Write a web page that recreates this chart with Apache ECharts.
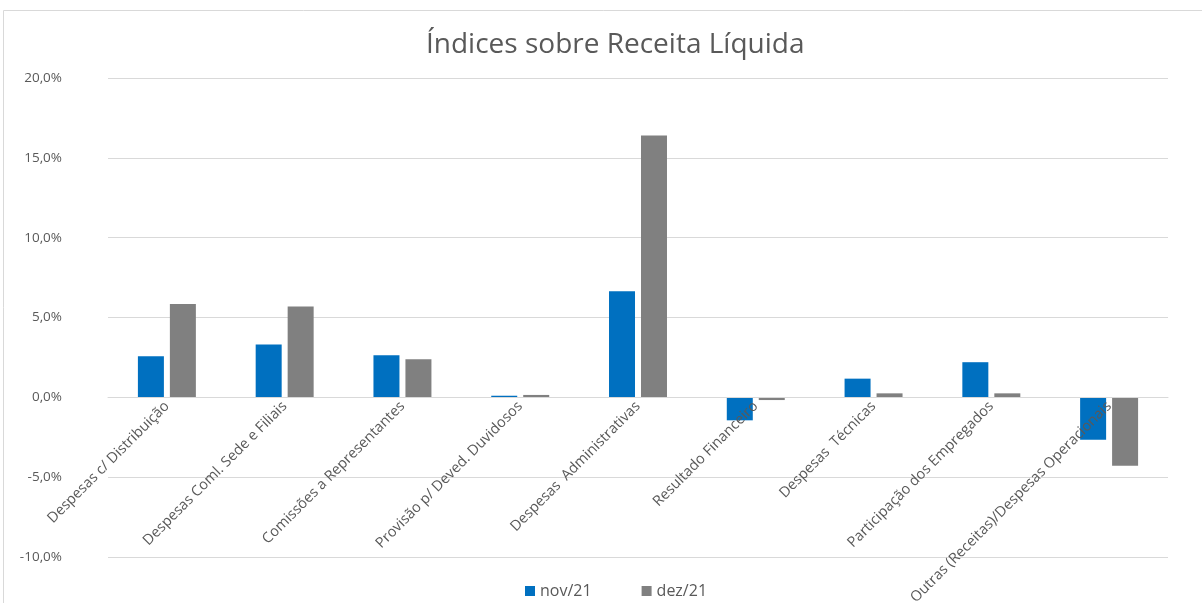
<!DOCTYPE html>
<html>
<head>
<meta charset="utf-8">
<script src="https://cdn.jsdelivr.net/npm/echarts@6/dist/echarts.min.js"></script>
<style>
  html, body { margin: 0; padding: 0; background: #fff; }
  #chart { width: 1202px; height: 603px; }
</style>
</head>
<body>
<div id="chart"></div>
<script>
// categorias do eixo x
var categorias = [
  'Despesas c/ Distribuição',
  'Despesas Coml. Sede e Filiais',
  'Comissões a Representantes',
  'Provisão p/ Deved. Duvidosos',
  'Despesas  Administrativas',
  'Resultado Financeiro',
  'Despesas  Técnicas',
  'Participação dos Empregados',
  'Outras (Receitas)/Despesas Operacionais'
];
var nomesSeries = ['nov/21', 'dez/21'];
// valores em %
var nov21 = [2.58, 3.31, 2.63, 0.10, 6.64, -1.44, 1.17, 2.20, -2.65];
var dez21 = [5.85, 5.69, 2.38, 0.15, 16.40, -0.17, 0.25, 0.25, -4.29];

var myChart = echarts.init(document.getElementById('chart'));
var fonte = 'Open Sans';

function fmt (v) {
  return v.toFixed(1).replace('.', ',') + '%';
}

var option = {
  animation: false,
  color: ['#0070c0', '#808080'],
  title: {
    text: 'Índices sobre Receita Líquida',
    left: 421,
    top: 26,
    textStyle: { fontFamily: fonte, fontSize: 28, fontWeight: 'normal', color: '#595959' }
  },
  graphic: [{ // borda do gráfico
    type: 'rect',
    shape: { x: 3.5, y: 10.5, width: 1300, height: 700 },
    style: { fill: 'none', stroke: '#d9d9d9', lineWidth: 1 },
    silent: true
  }],
  legend: {
    data: nomesSeries,
    bottom: -1,
    left: 520,
    itemWidth: 10,
    itemHeight: 10,
    itemGap: 50,
    icon: 'rect',
    textStyle: { fontFamily: fonte, fontSize: 16, color: '#595959' }
  },
  grid: {
    left: 108,
    right: 34,
    top: 78,
    bottom: 46,
    containLabel: false,
    outerBoundsMode: 'none'
  },
  xAxis: {
    type: 'category',
    data: categorias,
    position: 'bottom',
    offset: -160, // eixo na linha do 0,0%
    z: 10, // textos por cima das barras
    axisTick: { show: false },
    axisLine: { onZero: false, lineStyle: { color: '#d9d9d9' } },
    axisLabel: {
      interval: 0,
      rotate: 45,
      margin: 7,
      fontFamily: fonte,
      fontSize: 14.5,
      color: '#595959'
    }
  },
  yAxis: {
    type: 'value',
    min: -10,
    max: 20,
    interval: 5,
    axisLine: { show: false },
    axisTick: { show: false },
    splitLine: { lineStyle: { color: '#d9d9d9' } },
    axisLabel: {
      formatter: fmt,
      margin: 46,
      fontFamily: fonte,
      fontSize: 13.5,
      color: '#595959'
    }
  },
  series: [
    { name: nomesSeries[0], type: 'bar', data: nov21, barWidth: 26, barGap: '23%' },
    { name: nomesSeries[1], type: 'bar', data: dez21, barWidth: 26, barGap: '23%' }
  ]
};

myChart.setOption(option);
</script>
</body>
</html>
